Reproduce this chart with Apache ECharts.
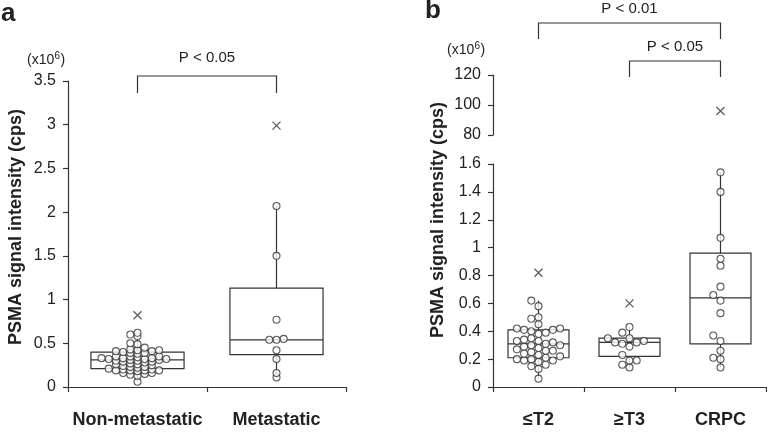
<!DOCTYPE html>
<html><head><meta charset="utf-8">
<script src="https://cdn.jsdelivr.net/npm/echarts@6/dist/echarts.min.js"></script>
<style>html,body{margin:0;padding:0;background:#fff}#c{width:767px;height:432px}</style>
</head><body><div id="c"></div>
<script>
// ---------- data ----------
const catsA = ['Non-metastatic', 'Metastatic'];
const catsB = ['≤T2', '≥T3', 'CRPC'];

const nonMetastatic = [0.62,0.60,0.58,0.50,0.49,0.45,0.43,0.42,0.42,0.41,0.41,0.40,0.39,0.39,0.38,0.35,0.35,0.35,0.34,0.33,0.33,0.33,0.32,0.32,0.32,0.31,0.31,0.30,0.30,0.29,0.29,0.28,0.27,0.26,0.26,0.25,0.24,0.23,0.23,0.22,0.21,0.20,0.20,0.19,0.19,0.19,0.19,0.18,0.16,0.16,0.15,0.14,0.13,0.06];
const metastatic = [2.07,1.50,0.77,0.55,0.54,0.54,0.42,0.32,0.16,0.11];
const t2 = [0.62,0.58,0.50,0.49,0.45,0.42,0.42,0.41,0.41,0.40,0.39,0.38,0.35,0.34,0.33,0.33,0.32,0.31,0.30,0.30,0.29,0.28,0.27,0.26,0.26,0.25,0.24,0.23,0.22,0.21,0.20,0.20,0.19,0.19,0.18,0.16,0.15,0.13,0.06];
const t3 = [0.43,0.39,0.35,0.35,0.33,0.32,0.32,0.31,0.29,0.23,0.19,0.19,0.16,0.14];
const crpc = [1.54,1.40,1.07,0.92,0.87,0.72,0.66,0.62,0.53,0.37,0.33,0.26,0.21,0.20,0.14];

// box stats: [min, Q1, median, Q3, max]
const boxA = [[0.06,0.21,0.31,0.40,0.62],[0.11,0.37,0.54,1.13,2.07]];
const boxB = [[0.06,0.21,0.31,0.41,0.62],[0.14,0.22,0.32,0.35,0.43],[0.14,0.31,0.64,0.96,1.54]];
// outliers: [category index, value]
const outA = [[0,0.82],[1,2.99]];
const outB = [[0,0.82],[1,0.60]];
const outBUpper = [[2,96]];

const yTicksA = {min:0, max:3.5, interval:0.5};
const yTicksB = {min:0, max:1.6, interval:0.2};
const yTicksBUpper = {min:80, max:120, interval:20};

// ---------- layout ----------
const FONT = '"Liberation Sans", Arial, sans-serif';
const INK = '#222', LINE = '#333';
const gA = {left:68, top:81, width:278, height:306};
const gB = {left:493, top:164, width:273, height:223};
const gU = {left:493, top:75, width:273, height:60};

// dodge layout: dots in one group may not share |dx|<s and |dy|<h
function swarm(groups, pxX, pxY, s, h){
  const out = [];
  groups.forEach((vals, gi) => {
    const placed = [];
    vals.slice().sort((a,b)=>a-b).forEach(v => {
      const y = v*pxY;
      const near = placed.filter(p => Math.abs(p.y-y) < h);
      let x = 0;
      for (let k = 0; k < 60; k++){
        const c = (k === 0) ? 0 : ((k % 2 ? -1 : 1) * Math.ceil(k/2) * s/2);
        if (near.every(p => Math.abs(p.x-c) >= s-0.01)) { x = c; break; }
      }
      placed.push({x, y});
      out.push([gi + x/pxX, v]);
    });
  });
  return out;
}
const dotsA = swarm([nonMetastatic, metastatic], gA.width/2, gA.height/(yTicksA.max-yTicksA.min), 7.2, 3.3);
const dotsB = swarm([t2, t3, crpc], gB.width/3, gB.height/(yTicksB.max-yTicksB.min), 7.2, 5.6);

function renderBox(params, api){
  const x = api.value(0);
  const v = [1,2,3,4,5].map(i => api.value(i));
  const bw = api.size([1,0])[0]*0.67;
  const pMin = api.coord([x,v[0]]), pQ1 = api.coord([x,v[1]]), pMed = api.coord([x,v[2]]), pQ3 = api.coord([x,v[3]]), pMax = api.coord([x,v[4]]);
  const cx = pMed[0], l = cx - bw/2;
  const st = {stroke:LINE, fill:'none', lineWidth:1.2};
  return {type:'group', children:[
    {type:'rect', shape:{x:l, y:pQ3[1], width:bw, height:pQ1[1]-pQ3[1]}, style:st},
    {type:'line', shape:{x1:l, y1:pMed[1], x2:l+bw, y2:pMed[1]}, style:st},
    {type:'line', shape:{x1:cx, y1:pQ3[1], x2:cx, y2:pMax[1]}, style:st},
    {type:'line', shape:{x1:cx, y1:pQ1[1], x2:cx, y2:pMin[1]}, style:st}
  ]};
}

function catAxis(grid, data, show){
  return {type:'category', gridIndex:grid, data:data, show:show,
    axisLine:{show:true, onZero:false, lineStyle:{color:LINE, width:1.2}},
    axisTick:{show:true, length:5, lineStyle:{color:LINE, width:1.2}},
    axisLabel:{interval:0, fontFamily:FONT, fontSize:18, fontWeight:'bold', color:INK, margin:24},
    splitLine:{show:false}};
}
function hiddenVal(grid, n){
  return {type:'value', gridIndex:grid, min:-0.5, max:n-0.5, show:false, splitLine:{show:false}, axisLine:{onZero:false}};
}
function valAxis(grid, t){
  return {type:'value', gridIndex:grid, min:t.min, max:t.max, interval:t.interval,
    axisLine:{show:true, onZero:false, lineStyle:{color:LINE, width:1.2}},
    axisTick:{show:true, length:5, lineStyle:{color:LINE, width:1.2}},
    axisLabel:{fontFamily:FONT, fontSize:16, color:INK, margin:12},
    splitLine:{show:false}};
}
const dotStyle = {color:'#fff', borderColor:LINE, borderWidth:1.1};
const xStyle = {color:'none', borderColor:LINE, borderWidth:1.3};
const XSYM = 'path://M0,0L10,10M10,0L0,10';

const chart = echarts.init(document.getElementById('c'), null, {renderer:'canvas'});
chart.setOption({
  animation:false,
  backgroundColor:'#fff',
  grid:[gA, gB, gU],
  xAxis:[catAxis(0, catsA, true), hiddenVal(0,2), catAxis(1, catsB, true), hiddenVal(1,3), catAxis(2, catsB, false), hiddenVal(2,3)],
  yAxis:[valAxis(0, yTicksA), valAxis(1, yTicksB), valAxis(2, yTicksBUpper)],
  series:[
    {type:'custom', xAxisIndex:0, yAxisIndex:0, renderItem:renderBox, data:boxA.map((b,i)=>[i].concat(b)), encode:{x:0, y:[1,2,3,4,5]}, z:2},
    {type:'custom', xAxisIndex:2, yAxisIndex:1, renderItem:renderBox, data:boxB.map((b,i)=>[i].concat(b)), encode:{x:0, y:[1,2,3,4,5]}, z:2},
    {type:'scatter', xAxisIndex:1, yAxisIndex:0, data:dotsA, symbol:'circle', symbolSize:7, itemStyle:dotStyle, z:3},
    {type:'scatter', xAxisIndex:3, yAxisIndex:1, data:dotsB, symbol:'circle', symbolSize:7, itemStyle:dotStyle, z:3},
    {type:'scatter', xAxisIndex:1, yAxisIndex:0, data:outA, symbol:XSYM, symbolSize:8, itemStyle:xStyle, z:3},
    {type:'scatter', xAxisIndex:3, yAxisIndex:1, data:outB, symbol:XSYM, symbolSize:8, itemStyle:xStyle, z:3},
    {type:'scatter', xAxisIndex:5, yAxisIndex:2, data:outBUpper, symbol:XSYM, symbolSize:8, itemStyle:xStyle, z:3}
  ]
});

// ---------- annotations ----------
function cx(xAxisIndex, yAxisIndex, i){ return chart.convertToPixel({xAxisIndex, yAxisIndex}, [i, 0])[0]; }
function bracket(x1, x2, yTop, yBot){
  return {type:'polyline', shape:{points:[[x1,yBot],[x1,yTop],[x2,yTop],[x2,yBot]]}, style:{stroke:LINE, fill:null, lineWidth:1.2}};
}
function txt(x, y, s, size, bold, align, rot){
  return {type:'text', x:x, y:y, rotation:rot||0, style:{text:s, fontFamily:FONT, fontSize:size, fontWeight:bold?'bold':'normal', fill:INK,
    align:align||'center', verticalAlign:'middle', textAlign:align||'center', textVerticalAlign:'middle'}};
}
function exp(x, y){
  return [txt(x, y, '(x10', 14, false, 'left'), txt(x+27.5, y-4, '6', 10, false, 'left'), txt(x+33.5, y, ')', 14, false, 'left')];
}
const a0 = cx(1,0,0), a1 = cx(1,0,1);
const b0 = cx(3,1,0), b1 = cx(3,1,1), b2 = cx(3,1,2);
chart.setOption({graphic:[
  txt(1, 14, 'a', 26, true, 'left'),
  txt(425, 11, 'b', 26, true, 'left'),
  txt(16, 227, 'PSMA signal intensity (cps)', 18, true, 'center', Math.PI/2),
  txt(438, 220, 'PSMA signal intensity (cps)', 18, true, 'center', Math.PI/2),
  ...exp(27, 60),
  ...exp(447, 50),
  bracket(a0, a1, 76, 93),
  txt((a0+a1)/2, 58, 'P < 0.05', 15, false),
  bracket(b0, b2, 23, 39),
  txt((b0+b2)/2, 9, 'P < 0.01', 15, false),
  bracket(b1, b2, 61, 77),
  txt((b1+b2)/2, 47, 'P < 0.05', 15, false)
]});
</script>
</body></html>
